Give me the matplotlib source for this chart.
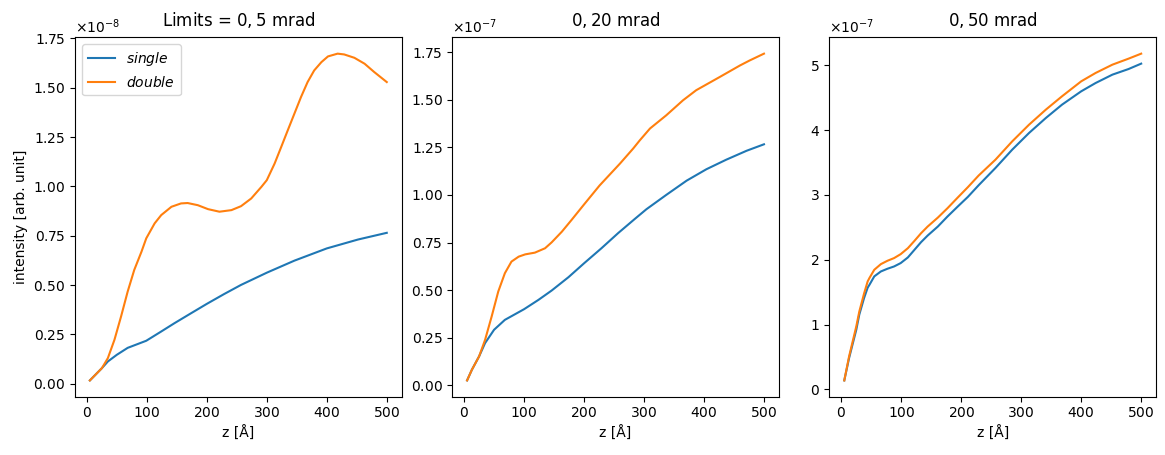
import matplotlib
matplotlib.use("Agg")
import matplotlib.pyplot as plt

plt.rcParams["axes.formatter.use_mathtext"] = True

# ---- Data (intensity values in units of each panel's offset) ----
# Panel 1: Limits = 0,5 mrad  (x1e-8)
z1_single = [5, 25, 35, 50, 68, 99, 124, 146, 174, 200, 229, 257, 300, 346, 400, 452, 500]
i1_single = [0.017, 0.079, 0.113, 0.147, 0.182, 0.218, 0.265, 0.307, 0.358, 0.405, 0.455,
             0.501, 0.563, 0.624, 0.686, 0.731, 0.765]
z1_double = [5, 25, 35, 46, 57, 68, 79, 91, 99, 113, 124, 141, 157, 168, 185, 202, 221, 241,
             257, 274, 291, 300, 313, 324, 335, 346, 357, 368, 379, 391, 402, 418, 429, 446,
             463, 479, 500]
i1_double = [0.017, 0.079, 0.130, 0.223, 0.341, 0.467, 0.577, 0.669, 0.737, 0.813, 0.855,
             0.897, 0.914, 0.916, 0.905, 0.885, 0.872, 0.880, 0.900, 0.939, 0.998, 1.032,
             1.116, 1.200, 1.285, 1.369, 1.453, 1.529, 1.588, 1.630, 1.659, 1.673, 1.669,
             1.652, 1.622, 1.580, 1.529]

# Panel 2: 0,20 mrad (x1e-7)
z2_single = [5, 13, 25, 35, 50, 68, 100, 124, 146, 174, 200, 229, 257, 285, 304, 337, 371,
             404, 437, 471, 500]
i2_single = [0.026, 0.082, 0.152, 0.222, 0.292, 0.344, 0.400, 0.449, 0.498, 0.568, 0.641,
             0.720, 0.800, 0.875, 0.925, 1.000, 1.075, 1.135, 1.185, 1.232, 1.266]
z2_double = [5, 13, 25, 35, 46, 57, 68, 79, 91, 102, 118, 135, 146, 163, 179, 200, 226, 260,
             282, 293, 310, 337, 365, 387, 426, 460, 476, 500]
i2_double = [0.026, 0.082, 0.152, 0.239, 0.362, 0.493, 0.589, 0.650, 0.676, 0.688, 0.697,
             0.720, 0.751, 0.807, 0.868, 0.950, 1.050, 1.165, 1.244, 1.287, 1.349, 1.418,
             1.497, 1.550, 1.619, 1.680, 1.706, 1.742]

# Panel 3: 0,50 mrad (x1e-7)
z3 = [5, 13, 25, 30, 38, 44, 47, 55, 66, 77, 88, 99, 111, 122, 133, 144, 161, 177, 194, 211,
      229, 257, 285, 313, 341, 368, 400, 424, 452, 479, 500]
i3_single = [0.139, 0.484, 0.921, 1.154, 1.410, 1.570, 1.615, 1.744, 1.820, 1.862, 1.897,
             1.949, 2.036, 2.154, 2.272, 2.374, 2.513, 2.667, 2.820, 2.970, 3.150, 3.416,
             3.699, 3.956, 4.187, 4.393, 4.599, 4.727, 4.856, 4.943, 5.026]
i3_double = [0.139, 0.509, 0.972, 1.200, 1.480, 1.667, 1.720, 1.846, 1.933, 1.985, 2.026,
             2.087, 2.179, 2.292, 2.410, 2.513, 2.651, 2.795, 2.959, 3.120, 3.300, 3.544,
             3.827, 4.084, 4.316, 4.522, 4.753, 4.882, 5.010, 5.103, 5.180]

titles = ["Limits = $0,5$ mrad", "$0,20$ mrad", "$0,50$ mrad"]
scales = [1e-8, 1e-7, 1e-7]

panels = [
    (z1_single, i1_single, z1_double, i1_double),
    (z2_single, i2_single, z2_double, i2_double),
    (z3, i3_single, z3, i3_double),
]

fig, axes = plt.subplots(1, 3, figsize=(11.65, 4.55), dpi=100)
fig.subplots_adjust(left=0.0644, right=0.9923, top=0.918, bottom=0.128, wspace=0.155)

for ax, (zs, ys, zd, yd), title, sc in zip(axes, panels, titles, scales):
    ax.plot(zs, [v * sc for v in ys], color="#1f77b4", label="$single$")
    ax.plot(zd, [v * sc for v in yd], color="#ff7f0e", label="$double$")
    ax.set_title(title, pad=8.5)
    ax.set_xlabel("z [Å]")

axes[0].set_ylabel("intensity [arb. unit]")
axes[0].legend(loc="upper left")

fig.savefig("out.png", dpi=100)
